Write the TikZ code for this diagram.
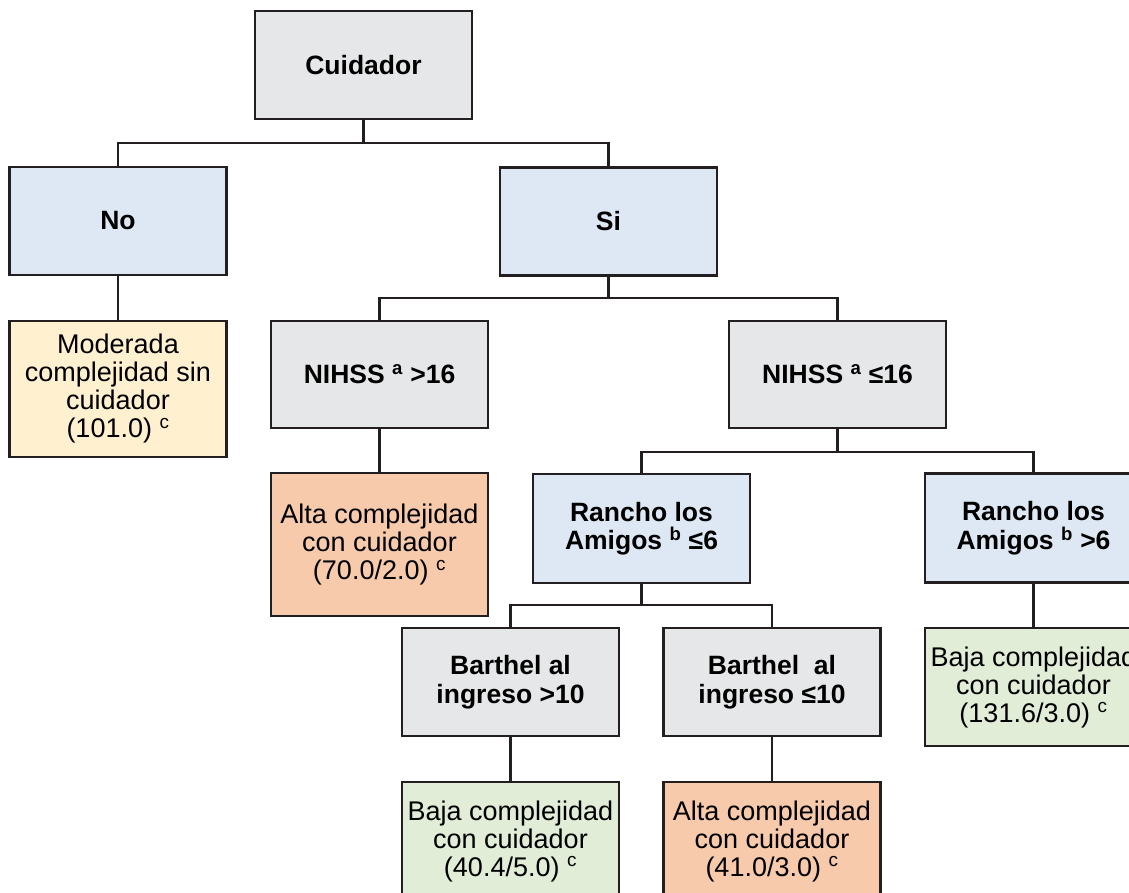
\documentclass[tikz,border=0pt]{standalone}
\usepackage{fontspec}
\setmainfont{Liberation Sans}
\usetikzlibrary{calc}

\definecolor{boxline}{HTML}{231F20}
\definecolor{condgray}{HTML}{E6E7E8}
\definecolor{condblue}{HTML}{DDE8F4}
\definecolor{leafyellow}{HTML}{FFF1CF}
\definecolor{leaforange}{HTML}{F7CAAB}
\definecolor{leafgreen}{HTML}{E2EDD8}

\begin{document}
\begin{tikzpicture}[x=1pt,y=-1pt,
    box/.style={draw=boxline,line width=2.2pt,inner sep=0pt,minimum width=217pt,
      minimum height=108pt,align=center,font=\fontsize{27}{28}\selectfont},
    cond/.style={box,fill=condgray,font=\bfseries\fontsize{26.5}{28.5}\selectfont},
    yesno/.style={cond,fill=condblue},
    leaf/.style={box,minimum height=118pt},
    link/.style={draw=boxline,line width=2.2pt},
    stem/.style={draw=boxline,line width=3.8pt}]
  \clip (0,0) rectangle (1129,892);
  %\draw[very thin,lightgray] (0,0) grid[step=100] (1129,892);

  \node[cond] (cuid) at (363.5,65) {Cuidador};
  \node[yesno] (no) at (118,221) {No};
  \node[yesno] (si) at (608.5,221.5) {Si};
  \node[leaf,fill=leafyellow,minimum height=136pt] (mod) at (118,389)
    {Moderada\\complejidad sin\\cuidador\\(101.0) \textsuperscript{c}};

  \node[cond,minimum height=107pt] (nih1) at (379.5,374.5) {NIHSS \textsuperscript{a} >16};
  \node[cond,minimum height=107pt] (nih2) at (837.5,374.5) {NIHSS \textsuperscript{a} ≤16};
  \node[leaf,fill=leaforange,minimum height=143pt] (alta1) at (379.5,544.5)
    {Alta complejidad\\con cuidador\\(70.0/2.0) \textsuperscript{c}};

  \node[yesno,minimum height=109pt] (ran1) at (641.5,528.5) {Rancho los\\Amigos \textsuperscript{b} ≤6};
  \node[yesno,minimum height=109pt] (ran2) at (1033.5,528) {Rancho los\\Amigos \textsuperscript{b} >6};
  \node[leaf,fill=leafgreen] (baja3) at (1033.5,687)
    {Baja complejidad\\con cuidador\\(131.6/3.0) \textsuperscript{c}};

  \node[cond] (bar1) at (510.5,682) {Barthel al\\ingreso >10};
  \node[cond] (bar2) at (772,682) {Barthel~ al\\ingreso ≤10};
  \node[leaf,fill=leafgreen] (baja1) at (510.5,841)
    {Baja complejidad\\con cuidador\\(40.4/5.0) \textsuperscript{c}};
  \node[leaf,fill=leaforange] (alta2) at (772,841)
    {Alta complejidad\\con cuidador\\(41.0/3.0) \textsuperscript{c}};

  % splits
  \draw[stem] (cuid.south) -- ++(0,23) coordinate (j1);
  \draw[link] (no.north) |- (j1) -| (si.north);
  \draw[stem] (si.south) -- ++(0,21) coordinate (j2);
  \draw[link] (nih1.north) |- (j2) -| (nih2.north);
  \draw[stem] (nih2.south) -- ++(0,23) coordinate (j3);
  \draw[link] (ran1.north) |- (j3) -| (ran2.north);
  \draw[stem] (ran1.south) -- ++(0,21) coordinate (j4);
  \draw[link] (bar1.north) |- (j4) -| (bar2.north);

  % straight links
  \draw[link] (no) -- (mod);
  \draw[link] (nih1) -- (alta1);
  \draw[link] (ran2) -- (baja3);
  \draw[link] (bar1) -- (baja1);
  \draw[link] (bar2) -- (alta2);
\end{tikzpicture}
\end{document}
